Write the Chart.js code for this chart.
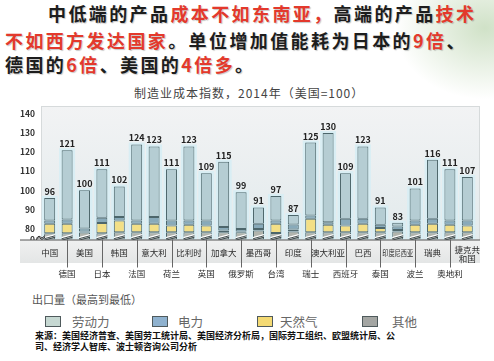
<!DOCTYPE html>
<html lang="zh">
<head>
<meta charset="utf-8">
<title>制造业成本指数</title>
<script src="https://cdn.jsdelivr.net/npm/chart.js@4/dist/chart.umd.min.js"></script>
<style>
  html, body { margin: 0; padding: 0; background: #fff; }
  body {
    width: 494px; height: 361px; position: relative; overflow: hidden;
    font-family: "Noto Sans CJK SC", "Noto Sans", sans-serif;
  }
  .leaf {
    position: absolute; right: -30px; top: -20px; width: 130px; height: 120px;
    background: radial-gradient(ellipse at 70% 40%, rgba(120,170,95,.35), rgba(160,200,140,0) 70%);
  }
  .lead {
    position: absolute; font-size: 18px; font-weight: 700; letter-spacing: 2.4px;
    color: #1d1d1d; white-space: nowrap; line-height: 1;
    text-shadow: 1px 1px 1px rgba(0,0,0,.22);
  }
  .red { color: #e3392c; }
  .title { position: absolute; left: 134px; top: 84px; font-size: 12px; letter-spacing: 1px; color: #444; white-space: nowrap; }
  #wrap { position: absolute; left: 0; top: 100px; width: 494px; height: 190px; }
  .sub { position: absolute; left: 32px; top: 291px; font-size: 11px; color: #555; white-space: nowrap; }
  .key { position: absolute; top: 316px; width: 14px; height: 9px; border: 1px solid #4f5a5c; }
  .keytxt { position: absolute; top: 312px; font-size: 12.5px; color: #666; white-space: nowrap; }
  .src { position: absolute; left: 35px; top: 330px; font-size: 9px; font-weight: 700; line-height: 11px; color: #111; white-space: nowrap; }
</style>
</head>
<body>
<div class="leaf"></div>
<div class="lead" style="left:48px; top:4px">中低端的产品<span class="red">成本不如东南亚，</span>高端的产品<span class="red">技术</span></div>
<div class="lead" style="left:5px; top:31px"><span class="red">不如西方发达国家</span>。单位增加值能耗为日本的<span class="red">9倍</span>、</div>
<div class="lead" style="left:5px; top:55px">德国的<span class="red">6倍</span>、美国的<span class="red">4倍多</span>。</div>
<div class="title">制造业成本指数，2014年（美国=100）</div>
<div id="wrap"><canvas id="chart" width="494" height="190"></canvas></div>
<div class="sub">出口量（最高到最低）</div>
<div class="key" style="left:45px; background:#c6d8d2"></div><div class="keytxt" style="left:72px">劳动力</div>
<div class="key" style="left:152px; background:#8fb2cf"></div><div class="keytxt" style="left:178px">电力</div>
<div class="key" style="left:257px; background:#f4da74"></div><div class="keytxt" style="left:280px">天然气</div>
<div class="key" style="left:362px; background:#a4a6a3"></div><div class="keytxt" style="left:392px">其他</div>
<div class="src">来源：美国经济普查、美国劳工统计局、美国经济分析局，国际劳工组织、欧盟统计局、公<br>司、经济学人智库、波士顿咨询公司分析</div>

<script>
// 按出口量从高到低
const CATEGORIES = ['中国', '德国', '美国', '日本', '韩国', '法国', '意大利', '荷兰', '比利时', '英国',
  '加拿大', '俄罗斯', '墨西哥', '台湾', '印度', '瑞士', '澳大利亚', '西班牙', '巴西', '泰国',
  '印度尼西亚', '波兰', '瑞典', '奥地利', '捷克共和国'];
const TOTALS = [96, 121, 100, 111, 102, 124, 123, 111, 123, 109, 115, 99, 91, 97, 87, 125, 130, 109, 123, 91, 83, 101, 116, 111, 107];
const OTHER = [72.8, 72.8, 73.8, 72.8, 74.0, 74.0, 74.0, 74.0, 74.0, 74.0, 74.3, 74.3, 76.9, 73.0, 75.4, 74.3, 74.3, 74.3, 74.3, 74.3, 75.4, 74.3, 74.3, 74.3, 74.3];
const GAS = [9.7, 9.7, 1.6, 10.0, 10.2, 8.5, 8.5, 7.6, 8.0, 7.6, 2.6, 1.1, 2.1, 9.5, 3.1, 10.8, 7.6, 7.3, 8.2, 5.9, 2.3, 7.6, 8.2, 7.6, 7.3];
const POWER = [1.7, 2.2, 4.6, 2.8, 1.8, 1.7, 3.5, 2.6, 2.2, 2.6, 3.8, 3.8, 3.5, 1.7, 3.6, 1.7, 1.4, 3.5, 2.6, 1.7, 3.3, 2.3, 2.6, 2.3, 2.6];
const LABOR = [11.8, 36.3, 20.0, 25.4, 16.0, 39.8, 37.0, 26.8, 38.8, 24.8, 34.3, 19.8, 8.5, 12.8, 4.9, 38.2, 46.7, 23.9, 37.9, 9.1, 2.0, 16.8, 30.9, 26.8, 22.8];
const Y_TICKS = [0, 80, 90, 100, 110, 120, 130, 140];

const FONT = '"Noto Sans CJK SC", "Noto Sans", sans-serif';

// broken axis: 0-80 is squeezed into the bottom strip, linear above 80
const LOW = 74.21;
function squash(v) {
  if (v >= 80) return v;
  if (v >= 70) return 80 - (80 - v) * 0.342;
  return 76.58 - (70 - v) / 70 * 2.37;
}

class BrokenScale extends Chart.LinearScale {
  getPixelForValue(v) {
    if (v == null || isNaN(v)) return NaN;
    return this.getPixelForDecimal((squash(v) - LOW) / (this.max - LOW));
  }
}
BrokenScale.id = 'broken';
BrokenScale.defaults = Chart.LinearScale.defaults;
Chart.register(BrokenScale);

const plotBg = {
  id: 'plotBg',
  beforeDatasetsDraw(chart) {
    const { ctx, chartArea: a } = chart;
    ctx.save();
    const g = ctx.createLinearGradient(0, a.top - 8, 0, a.bottom);
    g.addColorStop(0, '#f2f3f4');
    g.addColorStop(1, '#e2eaec');
    ctx.fillStyle = g;
    ctx.fillRect(a.left, a.top - 8, 480 - a.left, a.bottom - a.top + 8);
    ctx.strokeStyle = '#d6dadb';
    ctx.strokeRect(a.left + 0.5, a.top - 7.5, 480 - a.left - 1, a.bottom - a.top + 8);
    // light halo behind each bar
    ctx.fillStyle = '#d9eef4';
    chart.getDatasetMeta(3).data.forEach((bar) => {
      ctx.fillRect(bar.x - bar.width / 2 - 2.5, bar.y - 2, bar.width + 5, a.bottom - bar.y + 2);
    });
    ctx.restore();
  }
};

const decorations = {
  id: 'decorations',
  afterDatasetsDraw(chart) {
    const { ctx, chartArea: a, scales: { y } } = chart;
    ctx.save();
    // break marks across bars
    const y1 = y.getPixelForValue(0) - 1.5;
    const y2 = y.getPixelForValue(45);
    chart.getDatasetMeta(0).data.forEach((bar) => {
      const l = bar.x - bar.width / 2, r = bar.x + bar.width / 2;
      [y1, y2].forEach((yy) => {
        ctx.strokeStyle = '#fff';
        ctx.lineWidth = 1.4;
        ctx.beginPath(); ctx.moveTo(l, yy + 1); ctx.lineTo(r, yy - 2); ctx.stroke();
        ctx.strokeStyle = '#2f3b3d';
        ctx.lineWidth = 0.9;
        ctx.beginPath(); ctx.moveTo(l, yy + 2.2); ctx.lineTo(r, yy - 0.8); ctx.stroke();
      });
    });
    // break mark on the axis
    ctx.strokeStyle = '#333';
    ctx.lineWidth = 1;
    [y1, y2].forEach((yy) => {
      ctx.beginPath();
      ctx.moveTo(a.left - 5, yy + 2); ctx.lineTo(a.left - 2, yy - 0.5);
      ctx.lineTo(a.left + 1, yy + 1.5); ctx.lineTo(a.left + 4, yy - 1);
      ctx.stroke();
    });
    // totals above bars
    ctx.fillStyle = '#222';
    ctx.font = 'bold 9px ' + FONT;
    ctx.textAlign = 'center';
    ctx.textBaseline = 'bottom';
    chart.getDatasetMeta(3).data.forEach((bar, i) => {
      ctx.fillText(String(TOTALS[i]), bar.x, bar.y - 2);
    });
    ctx.restore();
  },
  afterDraw(chart) {
    const { ctx, chartArea: a, scales: { x } } = chart;
    const b = a.bottom;
    ctx.save();
    const g = ctx.createLinearGradient(0, b, 0, b + 23);
    g.addColorStop(0, '#f0f1f1');
    g.addColorStop(1, '#e4e6e6');
    ctx.fillStyle = g;
    ctx.fillRect(20, b + 0.5, 460, 23);
    ctx.strokeStyle = '#555';
    ctx.beginPath(); ctx.moveTo(20, b + 0.5); ctx.lineTo(480, b + 0.5); ctx.stroke();
    ctx.font = '8.5px ' + FONT;
    ctx.fillStyle = '#2a2a2a';
    ctx.textAlign = 'center';
    ctx.textBaseline = 'middle';
    CATEGORIES.forEach((name, i) => {
      const px = x.getPixelForValue(i);
      if (i % 2 === 0) {
        if (name.length > 4) {
          if (i === CATEGORIES.length - 1) {
            ctx.fillText(name.slice(0, 3), px, b + 10.5);
            ctx.fillText(name.slice(3), px, b + 19.5);
          } else {
            ctx.fillText(name, px, b + 13.5, 31);
          }
        } else {
          ctx.fillText(name, px, b + 13.5);
        }
      } else {
        ctx.strokeStyle = '#666';
        ctx.lineWidth = 1;
        ctx.beginPath();
        ctx.moveTo(Math.round(px) + 0.5, b);
        ctx.lineTo(Math.round(px) + 0.5, b + 28);
        ctx.stroke();
        ctx.fillText(name, px, b + 34.5);
      }
    });
    ctx.restore();
  }
};

const BAR = { barPercentage: 0.63, categoryPercentage: 1, borderWidth: 1, borderColor: '#4d666b', borderSkipped: false };

new Chart(document.getElementById('chart'), {
  type: 'bar',
  data: {
    labels: CATEGORIES,
    datasets: [
      { label: '其他', data: OTHER, backgroundColor: '#b1b4ad', ...BAR },
      { label: '天然气', data: GAS, backgroundColor: '#f3df86', ...BAR },
      { label: '电力', data: POWER, backgroundColor: '#88aaba', ...BAR },
      { label: '劳动力', data: LABOR, backgroundColor: '#b5cdd3', ...BAR }
    ]
  },
  options: {
    responsive: false,
    animation: false,
    layout: { padding: { top: 14, bottom: 50.5, left: 5, right: 18 } },
    plugins: { legend: { display: false }, tooltip: { enabled: false } },
    scales: {
      x: { type: 'category', stacked: true, display: false },
      y: {
        type: 'broken',
        stacked: true,
        min: 0,
        max: 140,
        grid: { display: false, drawTicks: false },
        border: { display: true, color: '#555', width: 1 },
        ticks: { autoSkip: false, padding: 6, color: '#333', font: { size: 8.5, weight: 'bold', family: FONT }, callback: (v) => String(v) },
        afterBuildTicks: (s) => { s.ticks = Y_TICKS.map((v) => ({ value: v })); },
        afterFit: (s) => { s.width = 36; }
      }
    }
  },
  plugins: [plotBg, decorations]
});
</script>
</body>
</html>
